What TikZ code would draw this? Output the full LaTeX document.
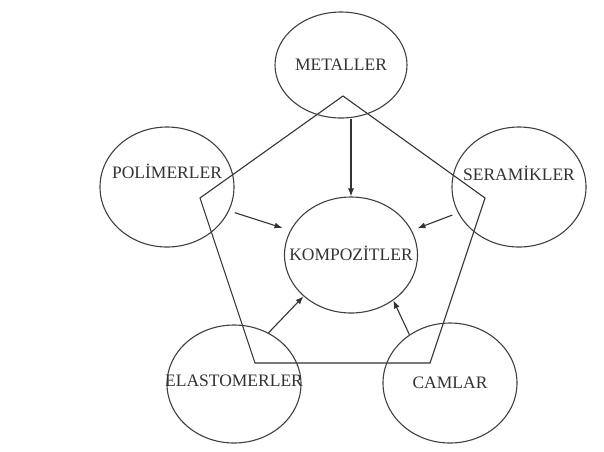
\documentclass[tikz,border=0pt]{standalone}
\usepackage{fontspec}
\setmainfont{Liberation Serif}
\usetikzlibrary{shapes.geometric}
\usetikzlibrary{arrows.meta}

\newcommand{\ename}[2][0pt]{\raisebox{\dimexpr#1-5.8pt\relax}[0pt][0pt]{\makebox[0pt]{#2}}}

\begin{document}
\begin{tikzpicture}[x=1pt,y=-1pt,>/.tip={Latex[length=8pt,width=6pt]},
	mat/.style={draw=black!75,line width=1.1pt,shape=ellipse,inner sep=0pt,minimum width=134pt,minimum height=120pt,text=black!80,font=\fontsize{17.5}{20}\selectfont}]
	\useasboundingbox (0,0) rectangle (604,451);
	\draw[line width=1.1pt,black!80] (343,96) -- (200,198) -- (255,363) -- (430,363) -- (485,198) -- cycle;

	\draw (341,65) node (metal) [mat,minimum width=132pt,minimum height=106pt] {\ename{METALLER}};
	\draw (167,187) node (polimer) [mat] {\ename[14pt]{POLİMERLER}};
	\draw (519,187) node (seramik) [mat] {\ename[12pt]{SERAMİKLER}};
	\draw (351,255) node (komp) [mat,minimum width=133pt,minimum height=116pt] {\ename{KOMPOZİTLER}};
	\draw (234,384) node (elastomer) [mat,minimum height=118pt] {\ename[3pt]{ELASTOMERLER}};
	\draw (450,383) node (cam) [mat] {\ename{CAMLAR}};

	\path[->,line width=1.1pt,black!80] (komp.north |- metal.south) edge (komp.north);
	\path[->,line width=1.1pt,black!80] (polimer.-21) edge [shorten <=6pt,shorten >=8pt] (komp.158);
	\path[->,line width=1.1pt,black!80] (seramik.203) edge [shorten <=6pt,shorten >=6pt] (komp.22);
	\path[->,line width=1.1pt,black!80] (elastomer.56) edge (komp.221);
	\path[->,line width=1.1pt,black!80] (cam.130) edge (komp.313);
\end{tikzpicture}
\end{document}
